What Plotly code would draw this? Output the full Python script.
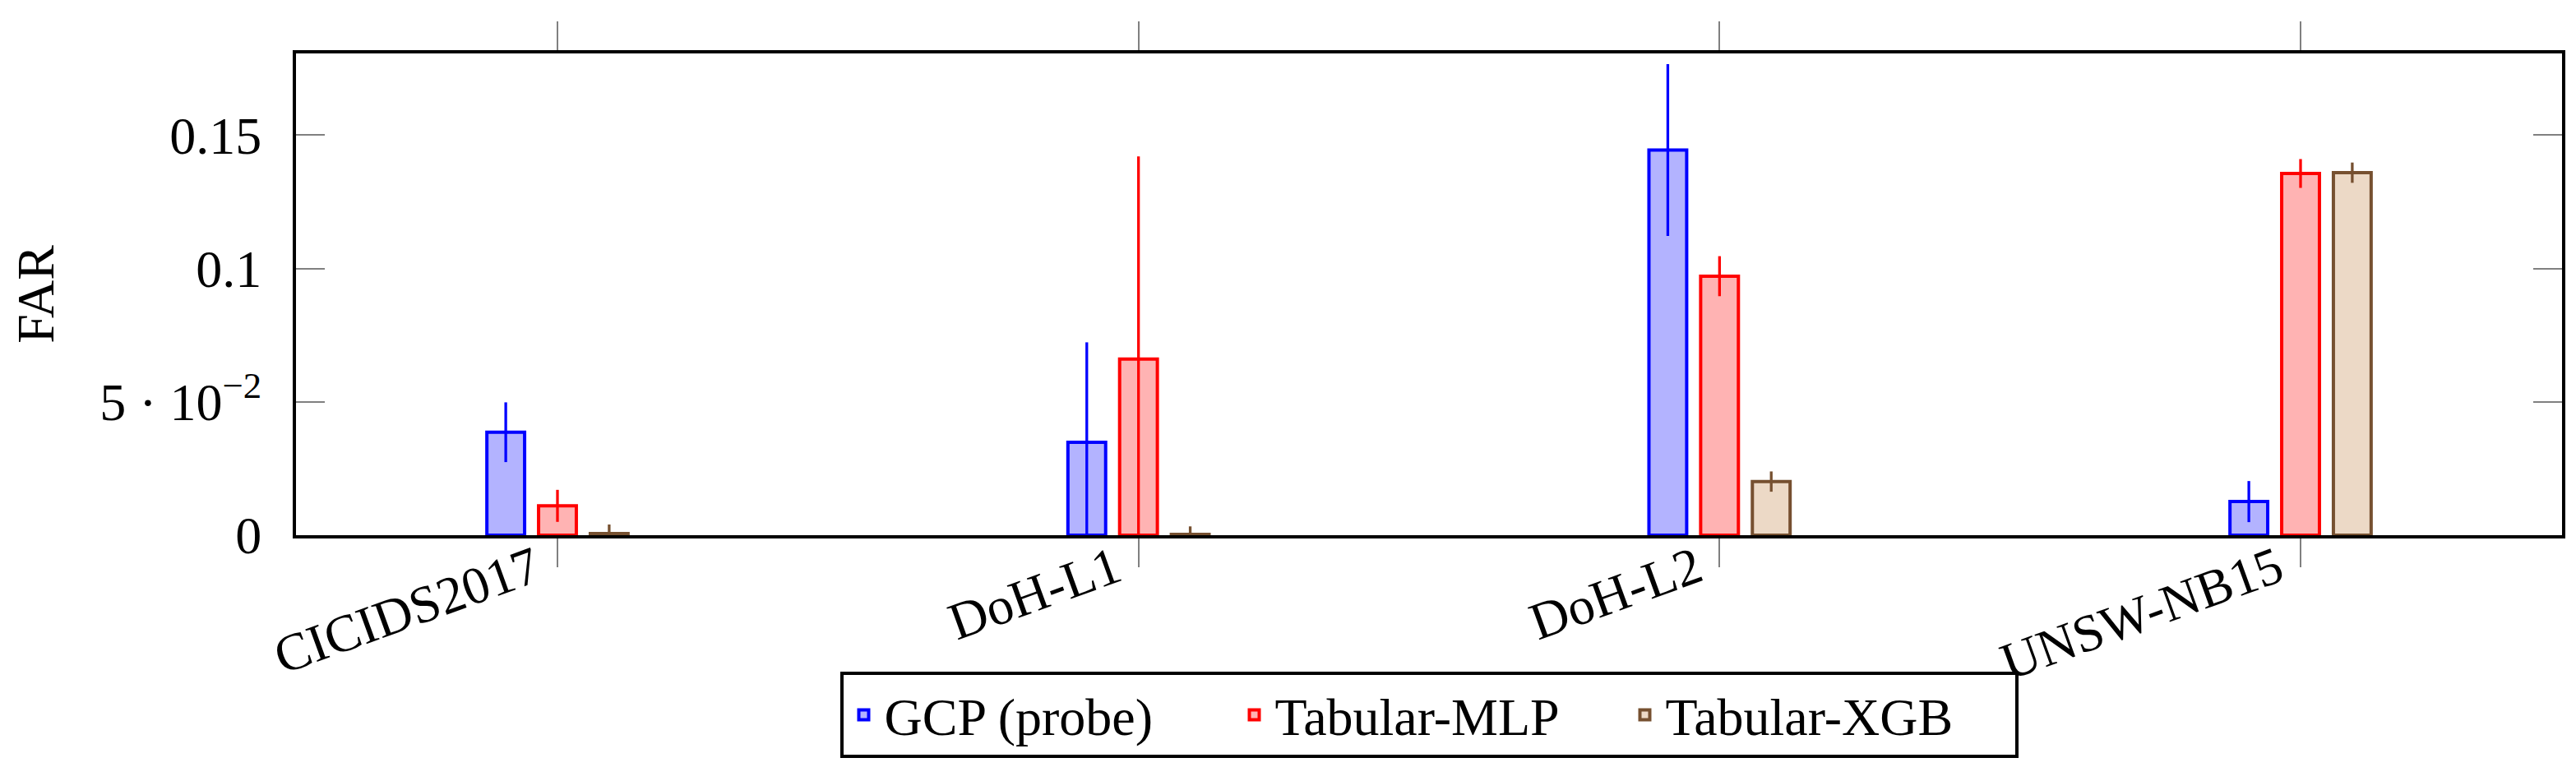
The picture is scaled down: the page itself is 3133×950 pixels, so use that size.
import plotly.graph_objects as go

# data
datasets = ["CICIDS2017", "DoH-L1", "DoH-L2", "UNSW-NB15"]

gcp_far = [0.0386, 0.0348, 0.1444, 0.0126]
gcp_err = [0.0112, 0.0375, 0.0322, 0.0077]

mlp_far = [0.0110, 0.0660, 0.0971, 0.1356]
mlp_err = [0.0060, 0.0760, 0.0075, 0.0054]

xgb_far = [0.0006, 0.0003, 0.0201, 0.1359]
xgb_err = [0.0034, 0.0030, 0.0038, 0.0038]

y_tickvals = [0, 0.05, 0.1, 0.15]
y_ticktext = ["0", "5 · 10<sup>−2</sup>", "0.1", "0.15"]

FONT = "Liberation Serif"
FS = 64

series = [
    ("GCP (probe)", gcp_far, gcp_err, "#B3B3FF", "#0000FF"),
    ("Tabular-MLP", mlp_far, mlp_err, "#FFB3B3", "#FF0000"),
    ("Tabular-XGB", xgb_far, xgb_err, "#ECD9C6", "#765030"),
]

fig = go.Figure()
for name, vals, errs, fill, edge in series:
    fig.add_trace(
        go.Bar(
            name=name,
            x=datasets,
            y=vals,
            marker=dict(color=fill, line=dict(color=edge, width=4)),
            error_y=dict(type="data", array=errs, color=edge, thickness=3.3, width=0),
        )
    )

fig.update_layout(
    barmode="group",
    bargap=0.733,
    bargroupgap=0.27,
    width=3133,
    height=950,
    margin=dict(l=352, r=25, t=57, b=307),
    paper_bgcolor="white",
    plot_bgcolor="white",
    font=dict(family=FONT, size=FS, color="black"),
    showlegend=True,
    legend=dict(
        orientation="h",
        x=0.5,
        xanchor="center",
        y=-0.284,
        yanchor="top",
        bordercolor="black",
        borderwidth=4,
        font=dict(family=FONT, size=FS),
        traceorder="normal",
        itemwidth=40,
        entrywidth=420,
    ),
)

fig.update_xaxes(
    range=[-0.45, 3.45],
    showline=True,
    linecolor="black",
    linewidth=4,
    mirror="allticks",
    ticks="outside",
    ticklen=35,
    tickwidth=2,
    tickcolor="#808080",
    tickangle=-20,
    ticklabelstandoff=-60,
    ticklabelshift=-28,
    tickfont=dict(family=FONT, size=FS),
    showgrid=False,
    zeroline=False,
)

fig.update_yaxes(
    range=[0, 0.1806],
    title=dict(text="FAR", font=dict(family=FONT, size=FS), standoff=55),
    tickvals=y_tickvals,
    ticktext=y_ticktext,
    showline=True,
    linecolor="black",
    linewidth=4,
    mirror="allticks",
    ticks="inside",
    ticklen=35,
    tickwidth=2,
    tickcolor="#808080",
    ticklabelstandoff=25,
    tickfont=dict(family=FONT, size=FS),
    showgrid=False,
    zeroline=False,
)

fig.write_html("out.html")
